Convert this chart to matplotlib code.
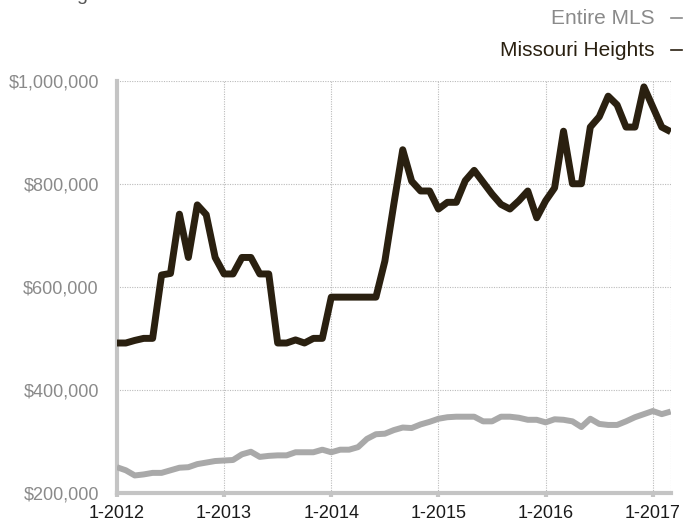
import matplotlib
matplotlib.use("Agg")
import matplotlib.pyplot as plt
from matplotlib.ticker import FuncFormatter

plt.rcParams['font.family'] = ['Liberation Sans', 'DejaVu Sans']

# Monthly values, 1-2012 through 3-2017
months = list(range(63))
missouri_heights = [
    491000, 491000, 496000, 500000, 500000, 623000, 626000, 741000, 657000, 759000,
    740000, 657000, 625000, 625000, 657000, 657000, 625000, 625000, 491000, 491000,
    497000, 491000, 500000, 500000, 580000, 580000, 580000, 580000, 580000, 580000,
    650000, 760000, 866000, 805000, 786000, 786000, 751000, 764000, 764000, 806000,
    826000, 803000, 780000, 760000, 751000, 767000, 786000, 734000, 767000, 792000,
    902000, 800000, 800000, 910000, 930000, 970000, 953000, 910000, 910000, 988000,
    949000, 910000, 901000,
]
entire_mls = [
    250000, 244000, 234000, 236000, 239000, 239000, 244000, 249000, 250000, 256000,
    259000, 262000, 263000, 264000, 275000, 280000, 270000, 272000, 273000, 273000,
    279000, 279000, 279000, 284000, 279000, 284000, 284000, 289000, 305000, 314000,
    315000, 322000, 327000, 326000, 333000, 338000, 344000, 347000, 348000, 348000,
    348000, 339000, 339000, 348000, 348000, 346000, 342000, 342000, 337000, 343000,
    342000, 339000, 328000, 344000, 334000, 332000, 332000, 339000, 347000, 353000,
    359000, 353000, 358000,
]
year_ticks = [0, 12, 24, 36, 48, 60]
year_labels = ["1-2012", "1-2013", "1-2014", "1-2015", "1-2016", "1-2017"]
y_ticks = [200000, 400000, 600000, 800000, 1000000]
series_names = ["Entire MLS", "Missouri Heights"]

dark = "#2a2010"
gray_line = "#a9a9a9"
axis_gray = "#c4c4c4"

fig = plt.figure(figsize=(6.86, 5.25), dpi=100)
ax = fig.add_axes([0.1704, 0.0610, 0.8073, 0.7853])

ax.plot(months, entire_mls, color=gray_line, lw=4.3, solid_joinstyle='round',
        solid_capstyle='butt', zorder=3)
ax.plot(months, missouri_heights, color=dark, lw=5.0, solid_joinstyle='round',
        solid_capstyle='butt', zorder=4)

ax.set_xlim(0, 62)
ax.set_ylim(200000, 1000000)

ax.set_xticks(year_ticks)
ax.set_xticklabels(year_labels)
ax.set_yticks(y_ticks)
ax.yaxis.set_major_formatter(FuncFormatter(lambda v, p: "${:,.0f}".format(v)))

for v in year_ticks[1:] + [62]:
    ax.axvline(v, color="#bbbbbb", lw=0.8, ls=(0, (1, 1.2)), zorder=1)
for v in y_ticks[1:]:
    ax.axhline(v, color="#bbbbbb", lw=0.8, ls=(0, (1, 1.2)), zorder=1)

for s in ["top", "right"]:
    ax.spines[s].set_visible(False)
for s in ["left", "bottom"]:
    ax.spines[s].set_color(axis_gray)
    ax.spines[s].set_linewidth(3)

ax.tick_params(axis='y', length=0, pad=13, labelsize=13, labelcolor="#8a8a8a")
ax.tick_params(axis='x', length=3, width=3, color=axis_gray, pad=6,
               labelsize=13, labelcolor="#1a1a1a")

# Legend as right-aligned text with dashes
fig.text(655 / 686, 1 - 18 / 525, series_names[0], ha='right', va='center',
         fontsize=15, color="#8a8a8a")
fig.text(655 / 686, 1 - 50 / 525, series_names[1], ha='right', va='center',
         fontsize=15, color=dark)
fig.add_artist(plt.Line2D([671 / 686, 682 / 686], [1 - 18 / 525, 1 - 18 / 525],
                          color="#8a8a8a", lw=1.2))
fig.add_artist(plt.Line2D([671 / 686, 682 / 686], [1 - 50 / 525, 1 - 50 / 525],
                          color=dark, lw=1.2))

# Title cut off at the top edge, as in the reference
fig.text(28 / 686, 1 - 0.5 / 525, "Rolling 12 Month Calculation", ha='left',
         va='baseline', fontsize=14, color="#555555")

fig.savefig("out.png", dpi=100)
